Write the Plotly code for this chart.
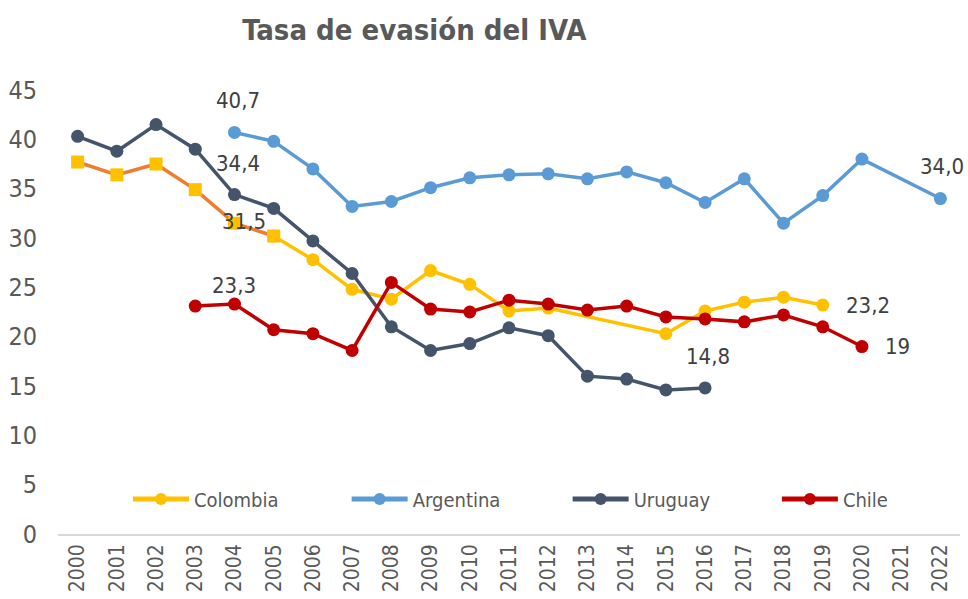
import plotly.graph_objects as go

years = [str(y) for y in range(2000, 2023)]

colombia_old = [37.7, 36.4, 37.5, 34.9, 31.5, 30.2] + [None] * 17
colombia = [None] * 5 + [30.2, 27.8, 24.8, 23.8, 26.7, 25.3, 22.6, 22.9, None, None,
                         20.3, 22.6, 23.5, 24.0, 23.2, None, None, None]
argentina = [None] * 4 + [40.7, 39.8, 37.0, 33.2, 33.7, 35.1, 36.1, 36.4, 36.5, 36.0,
                          36.7, 35.6, 33.6, 36.0, 31.5, 34.3, 38.0, None, 34.0]
uruguay = [40.3, 38.8, 41.5, 39.0, 34.4, 33.0, 29.7, 26.4, 21.0, 18.6, 19.3, 20.9,
           20.1, 16.0, 15.7, 14.6, 14.8] + [None] * 6
chile = [None] * 3 + [23.1, 23.3, 20.7, 20.3, 18.6, 25.5, 22.8, 22.5, 23.7, 23.3,
                      22.7, 23.1, 22.0, 21.8, 21.5, 22.2, 21.0, 19.0, None, None]

labels = ["40,7", "34,4", "31,5", "23,3", "14,8", "23,2", "19", "34,0"]
label_x = [4.08, 4.1, 4.23, 4.0, 16.07, 20.15, 20.9, 22.04]
label_y = [43.9, 37.6, 31.7, 25.2, 18.0, 23.2, 19.0, 37.2]

FONT = "DejaVu Sans Condensed, DejaVu Sans, sans-serif"

fig = go.Figure()
fig.add_trace(go.Scatter(x=years, y=colombia, name="Colombia", mode="lines+markers",
                         connectgaps=True, line=dict(color="#FFC000", width=3.5),
                         marker=dict(size=13, color="#FFC000"), legend="legend"))
fig.add_trace(go.Scatter(x=years, y=colombia_old, name="Colombia (serie anterior)",
                         mode="lines+markers", showlegend=False,
                         line=dict(color="#ED7D31", width=3.5),
                         marker=dict(size=13, symbol="square", color="#FFC000")))
fig.add_trace(go.Scatter(x=years, y=argentina, name="Argentina", mode="lines+markers",
                         connectgaps=True, line=dict(color="#5B9BD5", width=3.5),
                         marker=dict(size=13, color="#5B9BD5"), legend="legend2"))
fig.add_trace(go.Scatter(x=years, y=uruguay, name="Uruguay", mode="lines+markers",
                         line=dict(color="#44546A", width=3.5),
                         marker=dict(size=13, color="#44546A"), legend="legend3"))
fig.add_trace(go.Scatter(x=years, y=chile, name="Chile", mode="lines+markers",
                         line=dict(color="#C00000", width=3.5),
                         marker=dict(size=13, color="#C00000"), legend="legend4"))

for t, xx, yy in zip(labels, label_x, label_y):
    fig.add_annotation(x=xx, y=yy, xref="x", yref="y", text=t, showarrow=False,
                       font=dict(family=FONT, size=22, color="#404040"))


def leg(x):
    return dict(orientation="h", x=x, y=0.079, xanchor="left", yanchor="middle",
                font=dict(family=FONT, size=20, color="#595959"),
                bgcolor="rgba(0,0,0,0)", itemwidth=56, itemsizing="constant")


fig.update_layout(
    width=968, height=599,
    margin=dict(l=58, r=8, t=90, b=65, autoexpand=False),
    paper_bgcolor="white", plot_bgcolor="white",
    font=dict(family=FONT, color="#595959"),
    title=dict(text="<b>Tasa de evasión del IVA</b>", x=0.428, xanchor="center",
               y=0.95, yanchor="middle", xref="container", yref="container",
               font=dict(family=FONT, size=29, color="#595959")),
    showlegend=True,
    legend=leg(0.0776),
    legend2=leg(0.320),
    legend3=leg(0.565),
    legend4=leg(0.797),
    xaxis=dict(type="category", range=[-0.5, 22.5], showgrid=False,
               showline=True, linecolor="#D9D9D9", linewidth=1.5,
               ticks="", tickangle=-90, automargin=False,
               tickfont=dict(family=FONT, size=21, color="#595959")),
    yaxis=dict(range=[0, 45], dtick=5, showgrid=False, zeroline=False,
               showline=False, ticks="", automargin=False, ticklabelstandoff=20,
               tickfont=dict(family=FONT, size=25, color="#595959")),
)

fig.write_html("out.html", config={"displayModeBar": False},
               post_script="document.body.style.margin='0';")
